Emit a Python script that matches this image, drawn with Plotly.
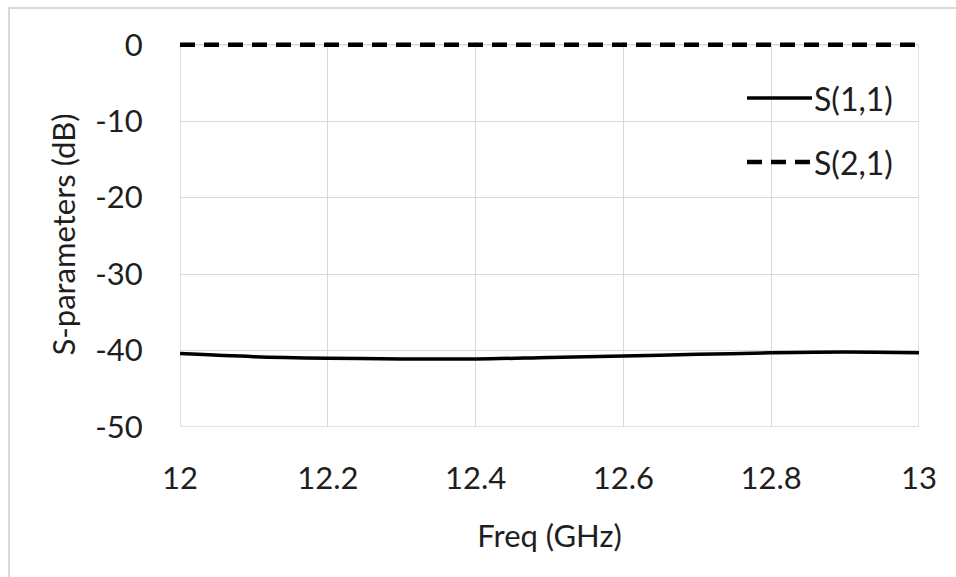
import plotly.graph_objects as go

# Frequency sweep (GHz) and simulated S-parameters (dB)
freq_ghz = [12.0, 12.1, 12.2, 12.3, 12.4, 12.5, 12.6, 12.7, 12.8, 12.9, 13.0]
s11_db = [-40.4, -40.8, -41.0, -41.1, -41.1, -40.9, -40.7, -40.5, -40.3, -40.2, -40.3]
s21_db = [0.0, 0.0, 0.0, 0.0, 0.0, 0.0, 0.0, 0.0, 0.0, 0.0, 0.0]

series_names = ["S(1,1)", "S(2,1)"]
x_ticks = [12, 12.2, 12.4, 12.6, 12.8, 13]
x_tick_text = ["12", "12.2", "12.4", "12.6", "12.8", "13"]
y_ticks = [0, -10, -20, -30, -40, -50]
y_tick_text = ["0", "-10", "-20", "-30", "-40", "-50"]
x_range = [12, 13]
y_range = [-50, 0]

FONT = "Lato"
FS = 31
TXT = "#1e1e1e"
GRID = "#d9d9d9"
DASH = "15px,9px"
W, H = 956, 577
L, R, T, B = 180, 37, 42, 150
Y_HEADROOM = 0.35  # small room above 0 dB so the dashed line is not clipped

fig = go.Figure()
fig.add_trace(go.Scatter(x=freq_ghz, y=s11_db, mode="lines", name=series_names[0],
                         line=dict(color="black", width=3.5, shape="spline"),
                         showlegend=False))
fig.add_trace(go.Scatter(x=freq_ghz, y=s21_db, mode="lines", name=series_names[1],
                         line=dict(color="black", width=4.5, dash=DASH),
                         showlegend=False))

pw, ph = W - L - R, H - T - B

def px_x(p):
    return (p - L) / pw

def px_y(p):
    return (H - B - p) / ph

# Plot-area frame at the axis limits
fig.add_shape(type="rect", xref="x", yref="y",
              x0=x_range[0], x1=x_range[1], y0=y_range[0], y1=y_range[1],
              line=dict(color=GRID, width=1.5), layer="below")

# Legend drawn as line samples plus labels
legend_rows = [(98, "solid", 3.5), (162, DASH, 4.5)]
for (yy, dash, lw), name in zip(legend_rows, series_names):
    fig.add_shape(type="line", xref="paper", yref="paper",
                  x0=px_x(747), x1=px_x(812), y0=px_y(yy), y1=px_y(yy),
                  line=dict(color="black", width=lw, dash=dash))
    fig.add_annotation(xref="paper", yref="paper", x=px_x(812), y=px_y(yy),
                       text=name, showarrow=False, xanchor="left", yanchor="middle",
                       font=dict(family=FONT, size=FS + 1, color=TXT))

# Outer chart frame
fig.add_shape(type="rect", xref="paper", yref="paper",
              x0=px_x(9), x1=px_x(W + 20), y0=px_y(8), y1=px_y(H + 20),
              line=dict(color=GRID, width=2), layer="below")

fig.update_layout(
    width=W, height=H,
    margin=dict(l=L, r=R, t=T, b=B),
    paper_bgcolor="white", plot_bgcolor="white",
    font=dict(family=FONT, size=FS, color=TXT),
    xaxis=dict(range=x_range, tickvals=x_ticks, ticktext=x_tick_text,
               showgrid=True, gridcolor=GRID, gridwidth=1,
               showline=False, zeroline=False,
               ticks="outside", ticklen=24, tickcolor="rgba(0,0,0,0)",
               title=dict(text="Freq (GHz)", standoff=30,
                          font=dict(family=FONT, size=FS))),
    yaxis=dict(range=[y_range[0], y_range[1] + Y_HEADROOM],
               tickvals=y_ticks, ticktext=y_tick_text,
               showgrid=True, gridcolor=GRID, gridwidth=1,
               showline=False, zeroline=False,
               ticks="outside", ticklen=30, tickcolor="rgba(0,0,0,0)",
               title=dict(text="S-parameters (dB)", standoff=10,
                          font=dict(family=FONT, size=FS))),
)

fig.write_html("out.html")
